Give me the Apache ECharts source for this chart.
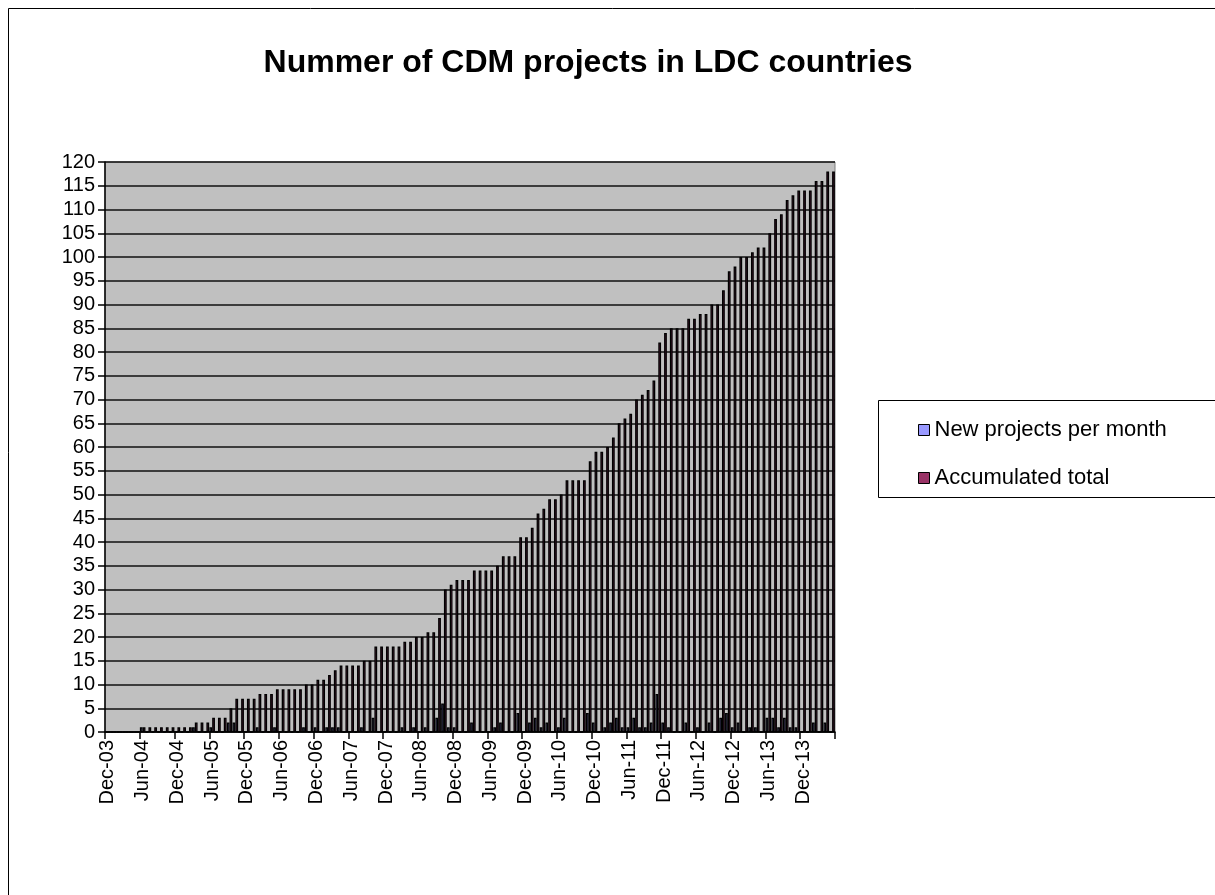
<!DOCTYPE html>
<html>
<head>
<meta charset="utf-8">
<script src="https://cdn.jsdelivr.net/npm/echarts@6/dist/echarts.min.js"></script>
<style>
html,body{margin:0;padding:0;background:#fff;}
#chart{width:1215px;height:895px;}
</style>
</head>
<body>
<div id="chart"></div>
<script>
var months = [
"Dec-03",
"Jan-04","Feb-04","Mar-04","Apr-04","May-04","Jun-04","Jul-04","Aug-04","Sep-04","Oct-04","Nov-04","Dec-04",
"Jan-05","Feb-05","Mar-05","Apr-05","May-05","Jun-05","Jul-05","Aug-05","Sep-05","Oct-05","Nov-05","Dec-05",
"Jan-06","Feb-06","Mar-06","Apr-06","May-06","Jun-06","Jul-06","Aug-06","Sep-06","Oct-06","Nov-06","Dec-06",
"Jan-07","Feb-07","Mar-07","Apr-07","May-07","Jun-07","Jul-07","Aug-07","Sep-07","Oct-07","Nov-07","Dec-07",
"Jan-08","Feb-08","Mar-08","Apr-08","May-08","Jun-08","Jul-08","Aug-08","Sep-08","Oct-08","Nov-08","Dec-08",
"Jan-09","Feb-09","Mar-09","Apr-09","May-09","Jun-09","Jul-09","Aug-09","Sep-09","Oct-09","Nov-09","Dec-09",
"Jan-10","Feb-10","Mar-10","Apr-10","May-10","Jun-10","Jul-10","Aug-10","Sep-10","Oct-10","Nov-10","Dec-10",
"Jan-11","Feb-11","Mar-11","Apr-11","May-11","Jun-11","Jul-11","Aug-11","Sep-11","Oct-11","Nov-11","Dec-11",
"Jan-12","Feb-12","Mar-12","Apr-12","May-12","Jun-12","Jul-12","Aug-12","Sep-12","Oct-12","Nov-12","Dec-12",
"Jan-13","Feb-13","Mar-13","Apr-13","May-13","Jun-13","Jul-13","Aug-13","Sep-13","Oct-13","Nov-13","Dec-13",
"Jan-14","Feb-14","Mar-14","Apr-14","May-14"
];

var newPerMonth = [
0,
0,0,0,0,0,1,0,0,0,0,0,0,
0,0,1,0,0,1,0,0,2,2,0,0,
0,1,0,0,1,0,0,0,0,1,0,1,
0,1,1,1,0,0,0,1,0,3,0,0,
0,0,1,0,1,0,1,0,3,6,1,1,
0,0,2,0,0,0,1,2,0,0,4,0,
2,3,1,2,0,1,3,0,0,0,4,2,
0,1,2,3,1,1,3,1,1,2,8,2,
1,0,0,2,0,1,0,2,0,3,4,1,
2,0,1,1,0,3,3,1,3,1,1,0,
0,2,0,2,0
];

var accumulated = [
0,
0,0,0,0,0,1,1,1,1,1,1,1,
1,1,2,2,2,3,3,3,5,7,7,7,
7,8,8,8,9,9,9,9,9,10,10,11,
11,12,13,14,14,14,14,15,15,18,18,18,
18,18,19,19,20,20,21,21,24,30,31,32,
32,32,34,34,34,34,35,37,37,37,41,41,
43,46,47,49,49,50,53,53,53,53,57,59,
59,60,62,65,66,67,70,71,72,74,82,84,
85,85,85,87,87,88,88,90,90,93,97,98,
100,100,101,102,102,105,108,109,112,113,114,114,
114,116,116,118,118
];

var yMin = 0, yMax = 120, yStep = 5;

var chart = echarts.init(document.getElementById('chart'));
var FONT = 'Liberation Sans, Arial, sans-serif';

chart.setOption({
  backgroundColor: '#ffffff',
  animation: false,
  title: {
    text: 'Nummer of CDM projects in LDC countries',
    left: 583,
    top: 42,
    textAlign: 'center',
    textStyle: { fontFamily: FONT, fontSize: 32, fontWeight: 'bold', color: '#000' }
  },
  graphic: [
    { type: 'rect', shape: { x: 8.5, y: 8.5, width: 1300, height: 1000 },
      style: { fill: 'none', stroke: '#000', lineWidth: 1 }, silent: true, z: -10 },
    { type: 'rect', shape: { x: 878.5, y: 400.5, width: 400, height: 97 },
      style: { fill: '#fff', stroke: '#000', lineWidth: 1 }, silent: true, z: 0 }
  ],
  legend: {
    orient: 'vertical',
    left: 913,
    top: 414,
    itemWidth: 11,
    itemHeight: 11,
    itemGap: 26,
    icon: 'rect',
    z: 10,
    textStyle: { fontFamily: FONT, fontSize: 22, color: '#000' },
    data: [
      { name: 'New projects per month', itemStyle: { borderWidth: 1 } },
      { name: 'Accumulated total', itemStyle: { borderWidth: 1 } }
    ]
  },
  grid: {
    left: 105, right: 380, top: 162, bottom: 163,
    show: true, backgroundColor: '#C0C0C0', borderColor: '#808080', borderWidth: 1
  },
  xAxis: {
    type: 'category',
    data: months,
    boundaryGap: true,
    axisLine: { show: true, lineStyle: { color: '#000', width: 1.5 } },
    axisTick: { show: true, interval: 5, length: 7, lineStyle: { color: '#000', width: 1.5 } },
    axisLabel: { interval: 5, rotate: 90, margin: 8, fontFamily: FONT, fontSize: 20, color: '#000' },
    splitLine: { show: false }
  },
  yAxis: {
    type: 'value',
    min: yMin, max: yMax, interval: yStep,
    axisLine: { show: true, lineStyle: { color: '#000', width: 1.5 } },
    axisTick: { show: true, length: 7, lineStyle: { color: '#000', width: 1.5 } },
    axisLabel: { margin: 10, fontFamily: FONT, fontSize: 20, color: '#000' },
    splitLine: { show: true, lineStyle: { color: '#111', width: 1.6 } }
  },
  series: [
    {
      name: 'New projects per month',
      type: 'bar',
      data: newPerMonth,
      barGap: '0%',
      barCategoryGap: '4%',
      itemStyle: { color: '#9999FF', borderColor: '#000', borderWidth: 1.3 }
    },
    {
      name: 'Accumulated total',
      type: 'bar',
      data: accumulated,
      barGap: '0%',
      barCategoryGap: '4%',
      itemStyle: { color: '#993366', borderColor: '#000', borderWidth: 1.3 }
    }
  ]
});
</script>
</body>
</html>
